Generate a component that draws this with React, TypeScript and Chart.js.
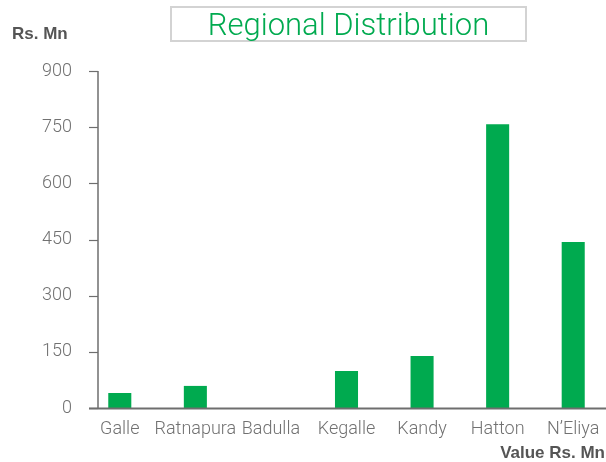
import React, { useEffect, useRef } from "react";
import { Chart, registerables } from "chart.js";

Chart.register(...registerables);

const categories = ["Galle", "Ratnapura", "Badulla", "Kegalle", "Kandy", "Hatton", "N\u2019Eliya"];
const values = [40, 59, 0, 99, 139, 758, 443];
const yMin = 0;
const yMax = 900;
const yStep = 150;

const titleText = "Regional Distribution";
const yUnitText = "Rs. Mn";
const xUnitText = "Value Rs. Mn";

const GREEN = "#00aa4f";
const AXIS = "#6e6e6e";
const FONT = "Roboto, 'Liberation Sans', sans-serif";
const BOLD_FONT = "'Liberation Sans', Arial, sans-serif";

const axisPlugin = {
  id: "customAxes",
  afterDatasetsDraw(chart: any) {
    const { ctx, chartArea } = chart;
    const y = chart.scales.y;
    const axisX = chartArea.left + 16;
    ctx.save();
    ctx.strokeStyle = AXIS;
    ctx.lineWidth = 1.5;
    ctx.beginPath();
    ctx.moveTo(axisX, y.getPixelForValue(yMax));
    ctx.lineTo(axisX, y.getPixelForValue(yMin));
    ctx.stroke();
    ctx.lineWidth = 1.2;
    for (let v = yMin; v <= yMax; v += yStep) {
      const py = Math.round(y.getPixelForValue(v)) + 0.5;
      ctx.beginPath();
      ctx.moveTo(axisX - 9, py);
      ctx.lineTo(axisX, py);
      ctx.stroke();
    }
    ctx.lineWidth = 2;
    const by = y.getPixelForValue(yMin) + 0.5;
    ctx.beginPath();
    ctx.moveTo(axisX - 9, by);
    ctx.lineTo(chart.width, by);
    ctx.stroke();
    ctx.restore();
  },
};

export default function App() {
  const ref = useRef<HTMLCanvasElement | null>(null);

  useEffect(() => {
    if (!ref.current) return;
    const chart = new Chart(ref.current, {
      type: "bar",
      data: {
        labels: categories,
        datasets: [
          {
            data: values,
            backgroundColor: GREEN,
            borderWidth: 0,
            categoryPercentage: 1,
            barPercentage: 0.305,
          },
        ],
      },
      options: {
        responsive: false,
        animation: false,
        maintainAspectRatio: false,
        layout: { padding: { top: 71, right: 9, left: 0, bottom: 0 } },
        plugins: {
          legend: { display: false },
          tooltip: { enabled: false },
          title: { display: false },
        },
        scales: {
          x: {
            type: "category",
            offset: true,
            grid: { display: false, drawTicks: false },
            border: { display: false },
            ticks: {
              color: "#717171",
              font: { family: FONT, size: 18, weight: "300" as any },
              padding: 11,
              maxRotation: 0,
              autoSkip: false,
            },
            afterFit: (s: any) => {
              s.height = 54;
            },
          },
          y: {
            min: yMin,
            max: yMax,
            grid: { display: false, drawTicks: false },
            border: { display: false },
            ticks: {
              stepSize: yStep,
              color: "#717171",
              font: { family: FONT, size: 18, weight: "300" as any },
              padding: 10,
            },
            afterFit: (s: any) => {
              s.width = 82;
            },
          },
        },
      },
      plugins: [axisPlugin],
    });
    return () => chart.destroy();
  }, []);

  return (
    <div
      style={{
        position: "absolute",
        left: 0,
        top: 0,
        width: 606,
        height: 462,
        overflow: "hidden",
        background: "#fff",
        fontFamily: FONT,
      }}
    >
      <canvas
        ref={ref}
        width={620}
        height={462}
        style={{ position: "absolute", left: 0, top: 0, width: 620, height: 462 }}
      />
      <div
        style={{
          position: "absolute",
          left: 170,
          top: 6,
          width: 353,
          height: 32,
          border: "2px solid #d3d3d3",
          color: GREEN,
          fontSize: 31,
          fontWeight: 300,
          lineHeight: "33px",
          textAlign: "center",
          whiteSpace: "nowrap",
        }}
      >
        {titleText}
      </div>
      <div
        style={{
          position: "absolute",
          left: 12,
          top: 24,
          color: "#555",
          fontFamily: BOLD_FONT,
          fontSize: 17,
          fontWeight: 700,
          lineHeight: "20px",
          whiteSpace: "nowrap",
        }}
      >
        {yUnitText}
      </div>
      <div
        style={{
          position: "absolute",
          right: 1,
          top: 443,
          color: "#555",
          fontFamily: BOLD_FONT,
          fontSize: 17,
          fontWeight: 700,
          lineHeight: "20px",
          whiteSpace: "nowrap",
        }}
      >
        {xUnitText}
      </div>
    </div>
  );
}
